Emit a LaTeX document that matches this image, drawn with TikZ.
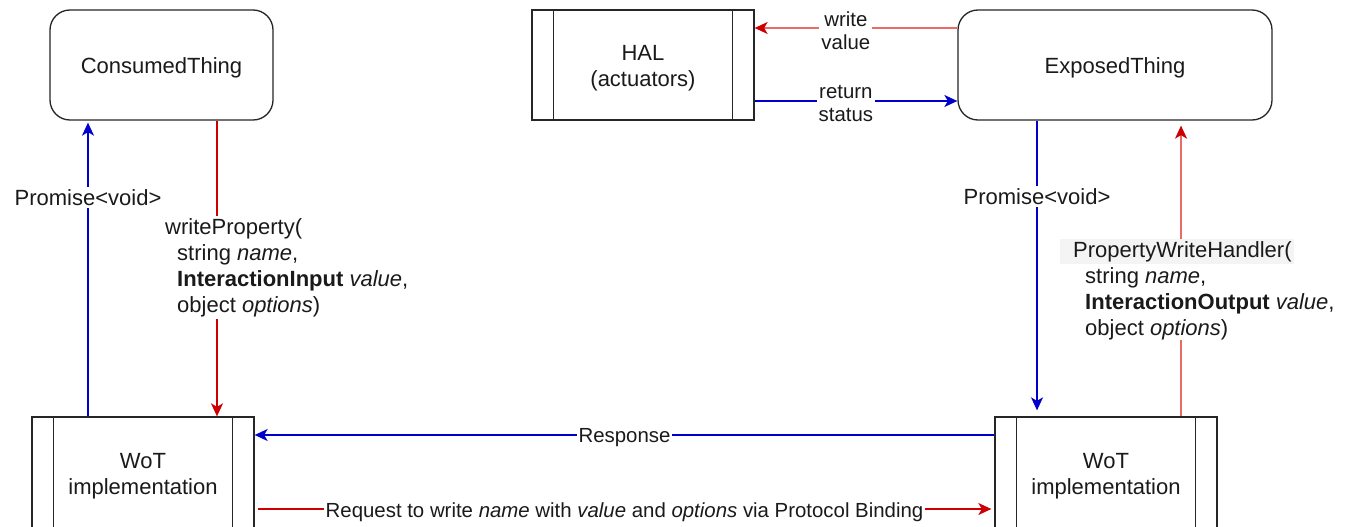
\documentclass[tikz,border=0pt]{standalone}
\usepackage{fontspec}
\setmainfont{Liberation Sans}
\usetikzlibrary{arrows.meta,calc}
\definecolor{ablue}{HTML}{0000CC}
\definecolor{ared}{HTML}{CC0000}
\definecolor{lred}{HTML}{EA6B66}
\definecolor{txt}{HTML}{1A1A1A}
\definecolor{phbg}{HTML}{F4F4F4}
\begin{document}
\begin{tikzpicture}[x=1pt,y=-1pt,
  font=\fontsize{22}{26}\selectfont, text=txt,
  thing/.style={draw=black!85, line width=1.3pt, rounded corners=20pt, inner sep=0pt},
  proc/.style={draw=black!85, line width=1.3pt, inner sep=0pt},
  inner/.style={align=center, inner sep=0pt},
  procline/.style={draw=black!85, line width=1.3pt},
  lab/.style={fill=white, inner sep=2pt, yshift=-3pt, font=\fontsize{20.4}{23}\selectfont, align=center},
  biglab/.style={fill=white, inner sep=2pt, yshift=-2pt, font=\fontsize{22}{26}\selectfont, align=center},
  tip/.style={-{Stealth[length=13pt,width=12pt,inset=3.5pt,#1]}},
  arrB/.style={line width=1.5pt, draw=ablue, tip=ablue},
  arrR/.style={line width=1.5pt, draw=ared, tip=ared},
  arrL/.style={line width=1.5pt, draw=lred, tip=ared}]
\useasboundingbox (0,0) rectangle (1351,527);
\fill[white] (0,0) rectangle (1351,527);

% shapes
\node[thing, minimum width=223pt, minimum height=110pt] (cons) at (161.5,65) {};
\node[proc, minimum width=222pt, minimum height=110pt] (hal) at (643,65) {};
\node[thing, minimum width=314pt, minimum height=110pt] (ex) at (1115,65) {};
\node[proc, minimum width=222pt, minimum height=112pt] (w1) at (143,473) {};
\node[proc, minimum width=222pt, minimum height=112pt] (w2) at (1106,473) {};

% texts
\node[inner] (consT) at ([yshift=-3pt]cons.center) {ConsumedThing};
\node[inner] (halT) at ([yshift=-3pt]hal.center) {HAL\\(actuators)};
\node[inner] (exT) at ([yshift=-3pt]ex.center) {ExposedThing};
\node[inner] (w1T) at ([yshift=-3pt]w1.center) {WoT\\implementation};
\node[inner] (w2T) at ([yshift=-3pt]w2.center) {WoT\\implementation};

\foreach \n in {hal,w1,w2}{
  \draw[procline] ([xshift=22pt]\n.north west) -- ([xshift=22pt]\n.south west);
  \draw[procline] ([xshift=-22pt]\n.north east) -- ([xshift=-22pt]\n.south east);
}

% HAL <-> ExposedThing
\draw[arrL] ([yshift=37pt]ex.west) -- node[lab, pos=0.55] {write\\value} ([yshift=37pt]hal.east);
\draw[arrB] ([yshift=-36pt]hal.east) -- node[lab, pos=0.45] {return\\status} ([yshift=-36pt]ex.west);

% left side
\draw[arrB, shorten >=2pt] ([xshift=-55pt]w1.north) -- node[biglab, pos=0.747] {Promise<void>} ([xshift=-55pt]w1.north |- cons.south);
\draw[arrR] ([xshift=55.5pt]cons.south) -- ([xshift=55.5pt]cons.south |- w1.north);
\node[fill=white, anchor=north west, align=left, inner sep=2pt] (wp) at (163,216)
  {writeProperty(\\\hspace*{12pt}string \textit{name},\\\hspace*{12pt}\textbf{InteractionInput} \textit{value},\\\hspace*{12pt}object \textit{options})};

% right side
\draw[arrB, shorten >=6pt] ([xshift=-78pt]ex.south) -- node[biglab, pos=0.25] {Promise<void>} ([xshift=-78pt]ex.south |- w2.north);
\draw[arrL, shorten >=5pt] ([xshift=75pt]w2.north) -- ([xshift=75pt]w2.north |- ex.south);
\node[fill=white, anchor=north west, align=left, inner sep=0pt] (pwh) at (1060,239)
  {{\setlength\fboxsep{2pt}\colorbox{phbg}{\hspace*{11pt}PropertyWriteHandler(}}\\[0.5pt]\hspace*{25pt}string \textit{name},\\\hspace*{25pt}\textbf{InteractionOutput} \textit{value},\\\hspace*{25pt}object \textit{options})};

% bottom
\draw[arrB] ([yshift=38pt]w2.west) -- node[lab] {Response} ([yshift=38pt]w1.east);
\draw[arrR, shorten <=3pt, shorten >=3pt] ([yshift=-36pt]w1.east) -- node[lab] {Request to write \textit{name} with \textit{value} and \textit{options} via Protocol Binding} ([yshift=-36pt]w2.west);
\end{tikzpicture}
\end{document}
